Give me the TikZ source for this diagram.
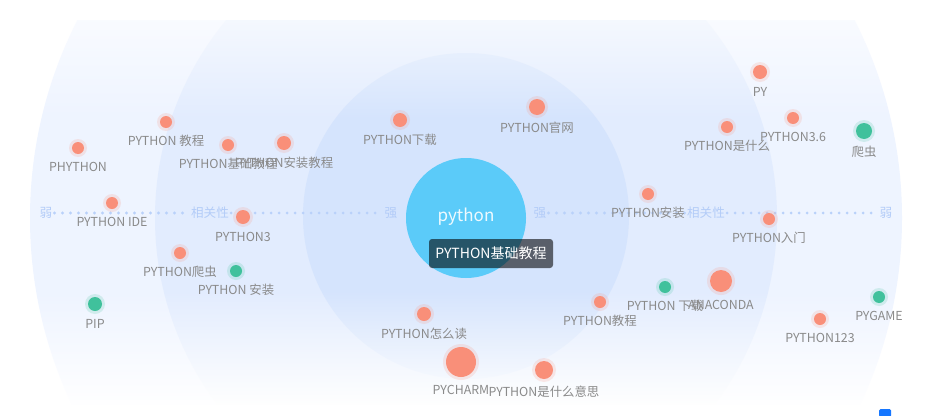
\documentclass[tikz,border=0pt]{standalone}
\usepackage{fontspec}
\setmainfont{Noto Sans CJK SC}
\usetikzlibrary{fadings}
\definecolor{salmon}{HTML}{F98F79}
\definecolor{grn}{HTML}{40C19C}
\definecolor{lab}{HTML}{8A8A8A}
\definecolor{axc}{HTML}{B3CCF8}
\definecolor{dotc}{HTML}{B9D1FA}
\definecolor{bgA}{RGB}{238,244,255}
\definecolor{bgB}{RGB}{226,236,254}
\definecolor{bgC}{RGB}{213,228,253}
\definecolor{ctr}{HTML}{5BCBF9}
\definecolor{blu}{HTML}{1677FF}
\tikzfading[name=fadedown, top color=transparent!100, bottom color=transparent!0]
\tikzfading[name=fadetop, top color=transparent!35, bottom color=transparent!100]
\newcommand\kwnode[6]{%
  \node[halo, fill=#5, minimum size={2*#4+6}] (#1h) at (#2,#3) {};
  \node[dot, fill=#5, minimum size={2*#4}] (#1) at (#2,#3) {};
  \node[lbl, anchor=north] (#1l) at (#2,#3+#4+8) {#6};
}
\begin{document}
\begin{tikzpicture}[x=1pt,y=-1pt,
  halo/.style={circle, inner sep=0pt, opacity=0.18},
  dot/.style={circle, inner sep=0pt},
  lbl/.style={font=\fontsize{12.4}{14}\selectfont, text=lab, inner sep=0pt, text height=9pt, text depth=3pt},
  axl/.style={font=\fontsize{12.6}{14}\selectfont, text=axc, inner sep=2pt},
  dotline/.style={draw=dotc, line width=3.2pt, line cap=round, dash pattern=on 0pt off 8pt}]
\useasboundingbox (0,0) rectangle (931,415);
\fill[white] (0,0) rectangle (931,415);
% background rings
\begin{scope}
  \clip (0,20) rectangle (931,415);
  \fill[bgA] (466,218) circle (436);
  \fill[bgB] (466,218) circle (311);
  \fill[bgC] (466,216) circle (163);
  \fill[white, path fading=fadedown] (0,290) rectangle (931,406);
  \fill[white] (0,405) rectangle (931,416);
  \fill[white, path fading=fadetop] (0,20) rectangle (931,120);
\end{scope}
% axis
\node[axl] (w1) at (46,213) {弱};
\node[axl] (r1) at (210,213) {相关性};
\node[axl] (s1) at (391,213) {强};
\node[axl] (s2) at (540,213) {强};
\node[axl] (r2) at (706,213) {相关性};
\node[axl] (w2) at (886,213) {弱};
\draw[dotline] (w1) -- (r1);
\draw[dotline] (r1) -- (s1);
\draw[dotline] (s2) -- (r2);
\draw[dotline] (r2) -- (w2);
% keyword nodes
\kwnode{py}{760}{72}{7}{salmon}{PY}
\kwnode{pyts}{793}{118}{6}{salmon}{PYTHON3.6}
\kwnode{pysm}{727}{127}{6}{salmon}{PYTHON是什么}
\kwnode{pachong}{864}{131}{8}{grn}{爬虫}
\kwnode{phython}{78}{148}{6}{salmon}{PHYTHON}
\kwnode{pyjc}{166}{122}{6}{salmon}{PYTHON 教程}
\kwnode{pyjcb}{228}{145}{6}{salmon}{PYTHON基础教程}
\kwnode{pyazjc}{284}{143}{7}{salmon}{PYTHON安装教程}
\kwnode{pyxz}{400}{120}{7}{salmon}{PYTHON下载}
\kwnode{pygw}{537}{107}{8}{salmon}{PYTHON官网}
\kwnode{pyide}{112}{203}{6}{salmon}{PYTHON IDE}
\kwnode{pythree}{243}{217}{7}{salmon}{PYTHON3}
\kwnode{pypc}{180}{253}{6}{salmon}{PYTHON爬虫}
\kwnode{pyaz}{236}{271}{6}{grn}{PYTHON 安装}
\kwnode{pip}{95}{304}{7}{grn}{PIP}
\kwnode{pyzmd}{424}{314}{7}{salmon}{PYTHON怎么读}
\kwnode{pycharm}{461}{362}{15}{salmon}{PYCHARM}
\kwnode{pysmys}{544}{370}{9}{salmon}{PYTHON是什么意思}
\kwnode{pyjcc}{600}{302}{6}{salmon}{PYTHON教程}
\kwnode{pyxzz}{665}{287}{6}{grn}{PYTHON 下载}
\kwnode{anaconda}{721}{281}{11}{salmon}{ANACONDA}
\kwnode{pyazz}{648}{194}{6}{salmon}{PYTHON安装}
\kwnode{pyrm}{769}{219}{6}{salmon}{PYTHON入门}
\kwnode{pyot}{820}{319}{6}{salmon}{PYTHON123}
\kwnode{pygame}{879}{297}{6}{grn}{PYGAME}
% center
\node[circle, fill=ctr, minimum size=120, inner sep=0pt] (center) at (466,218) {};
\node[font=\fontsize{17}{20}\selectfont, text=white, text opacity=0.9, inner sep=0pt] (centerl) at (466,217) {python};
\node[fill=black, fill opacity=0.58, text opacity=1, text=white, rounded corners=3pt,
  minimum width=124, minimum height=29, inner sep=0pt, font=\fontsize{14}{16}\selectfont] (tip) at (491,253.5) {PYTHON基础教程};
% small blue mark
\node[fill=blu, rounded corners=1.5pt, minimum width=12, minimum height=8, inner sep=0pt] (mark) at (885,413) {};
\end{tikzpicture}
\end{document}
